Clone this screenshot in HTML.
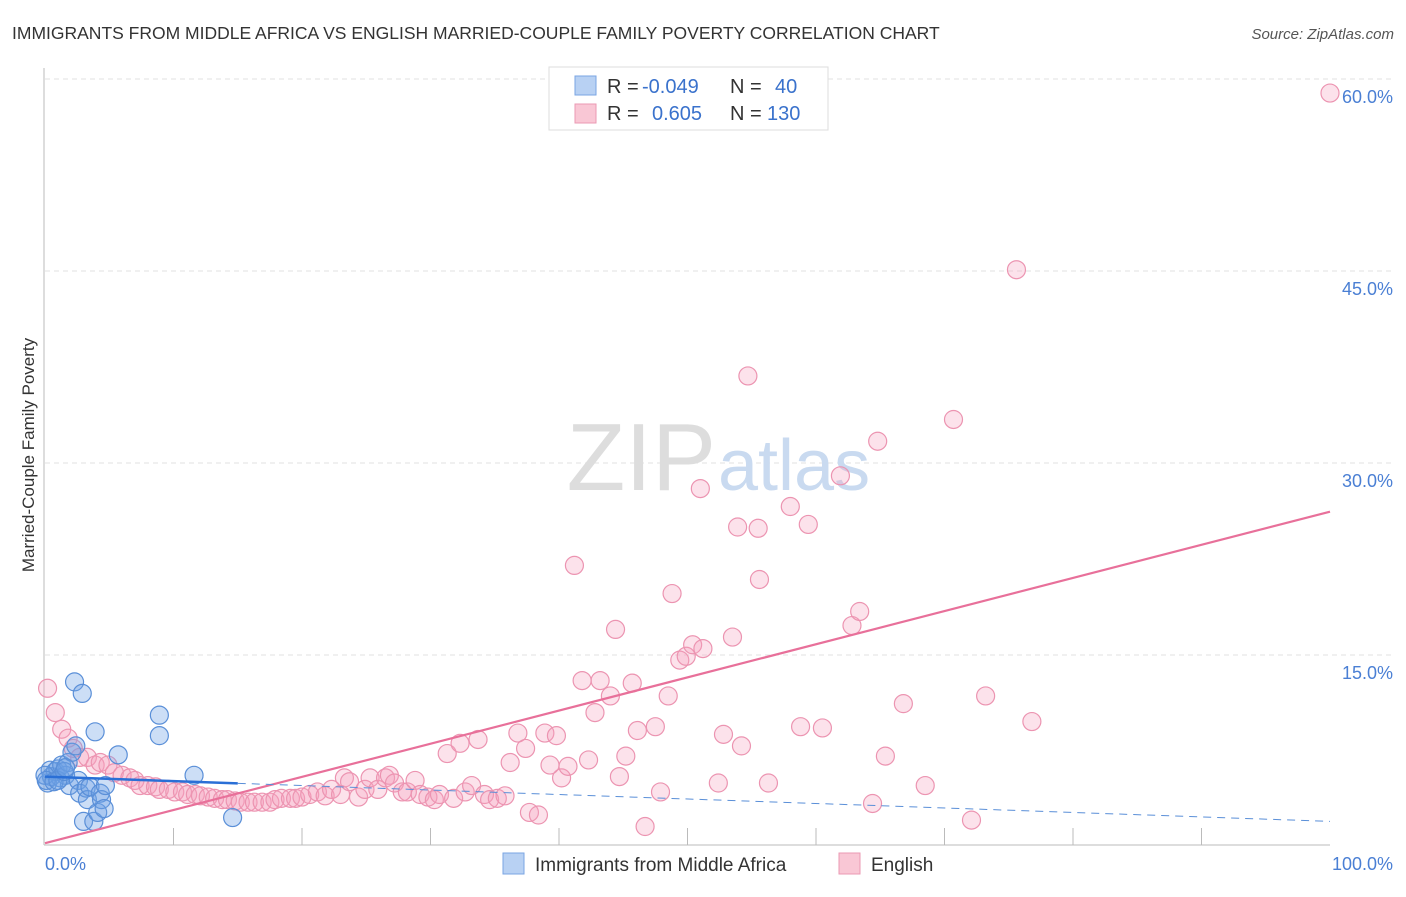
<!DOCTYPE html>
<html><head><meta charset="utf-8"><style>
body{margin:0;background:#fff;font-family:"Liberation Sans",sans-serif}
svg text{font-family:"Liberation Sans",sans-serif}
</style></head><body>
<svg width="1406" height="892">
<text x="12" y="39" font-size="17.5" fill="#333">IMMIGRANTS FROM MIDDLE AFRICA VS ENGLISH MARRIED-COUPLE FAMILY POVERTY CORRELATION CHART</text>
<text x="1394" y="39" font-size="15" fill="#555" font-style="italic" text-anchor="end">Source: ZipAtlas.com</text>
<g id="grid"></g>
<text x="716" y="490" font-size="96" font-family="Liberation Serif" fill="#ddd" text-anchor="end">ZIP</text>
<text x="718" y="490" font-size="72" fill="#c9daf0">atlas</text>
<text transform="translate(34,455) rotate(-90)" font-size="17" fill="#333" text-anchor="middle">Married-Couple Family Poverty</text>
<g id="pts"></g>
<g id="lines"></g>
<g>
<rect x="549" y="67" width="279" height="63" fill="#fff" stroke="#ddd"/>
<rect x="575" y="76" width="21" height="19" fill="#b8d1f3" stroke="#7aa5e3"/>
<rect x="575" y="104" width="21" height="19" fill="#f9c7d5" stroke="#eb9ab3"/>
<text x="607" y="93" font-size="20" fill="#333">R = </text><text x="642" y="93" font-size="20" fill="#3a72cc">-0.049</text>
<text x="730" y="93" font-size="20" fill="#333">N = </text><text x="775" y="93" font-size="20" fill="#3a72cc">40</text>
<text x="607" y="120" font-size="20" fill="#333">R = </text><text x="652" y="120" font-size="20" fill="#3a72cc">0.605</text>
<text x="730" y="120" font-size="20" fill="#333">N = </text><text x="767" y="120" font-size="20" fill="#3a72cc">130</text>
</g>
<g>
<rect x="503" y="853" width="21" height="21" fill="#b8d1f3" stroke="#7aa5e3"/>
<text x="535" y="871" font-size="19" fill="#333">Immigrants from Middle Africa</text>
<rect x="839" y="853" width="21" height="21" fill="#f9c7d5" stroke="#eb9ab3"/>
<text x="871" y="871" font-size="19" fill="#333">English</text>
</g>
</svg>
<script>
const yTicks=[15,30,45,60];
const xTickLabels=["0.0%","100.0%"];
const blueX=[0.2,0.4,0.5,0.8,1.0,1.2,1.3,1.6,1.8,1.9,2.1,2.3,2.4,2.6,2.7,2.9,3.0,3.2,3.3,3.5,3.8,3.9,4.1,4.3,4.4,4.6,4.7,5.7,8.9,8.9,11.6,14.6,0.0,0.1,0.7,1.0,1.5,1.6];
const blueY=[5.0,6.0,5.5,5.9,6.1,5.4,6.4,5.6,6.6,4.8,7.4,12.9,7.9,5.2,4.2,12.0,2.0,4.6,3.7,4.7,2.0,9.0,2.7,4.2,3.7,3.0,4.8,7.2,10.3,8.7,5.6,2.3,5.6,5.2,5.1,5.2,5.9,6.2];
const pinkX=[0.2,0.8,1.3,1.8,2.2,2.7,3.3,3.9,4.3,4.9,5.4,6.0,6.6,7.0,7.4,8.0,8.6,8.9,9.6,10.1,10.7,11.1,11.7,12.1,12.7,13.2,13.8,14.2,14.8,15.2,15.8,16.3,16.9,17.5,17.9,18.4,19.1,19.5,20.0,20.6,21.2,21.8,22.3,23.0,23.3,23.7,24.4,24.9,25.3,25.9,26.5,26.8,27.2,27.8,28.2,28.8,29.2,29.8,30.3,30.7,31.3,31.8,32.3,32.7,33.2,33.7,34.2,34.6,35.2,35.8,36.2,36.8,37.4,37.7,38.4,38.9,39.3,39.8,40.2,40.7,41.2,41.8,42.3,42.8,43.2,44.0,44.4,44.7,45.2,45.7,46.1,46.7,47.5,47.9,48.5,48.8,49.4,49.9,50.4,51.0,51.2,52.4,52.8,53.5,53.9,54.2,54.7,55.5,55.6,56.3,58.0,58.8,59.4,60.5,61.9,62.8,63.4,64.4,64.8,65.4,66.8,68.5,70.7,72.1,73.2,75.6,76.8,100.0];
const pinkY=[12.4,10.5,9.2,8.5,7.7,7.0,7.0,6.4,6.6,6.4,5.8,5.6,5.4,5.2,4.8,4.8,4.7,4.5,4.5,4.3,4.3,4.1,4.1,4.0,3.9,3.8,3.7,3.7,3.6,3.5,3.5,3.5,3.5,3.5,3.7,3.8,3.8,3.8,3.9,4.1,4.3,4.0,4.5,4.1,5.4,5.1,3.9,4.5,5.4,4.5,5.4,5.6,5.0,4.3,4.3,5.2,4.1,3.9,3.7,4.1,7.3,3.8,8.1,4.3,4.8,8.4,4.1,3.7,3.8,4.0,6.6,8.9,7.7,2.7,2.5,8.9,6.4,8.7,5.4,6.3,22.0,13.0,6.8,10.5,13.0,11.8,17.0,5.5,7.1,12.8,9.1,1.6,9.4,4.3,11.8,19.8,14.6,14.9,15.8,28.0,15.5,5.0,8.8,16.4,25.0,7.9,36.8,24.9,20.9,5.0,26.6,9.4,25.2,9.3,29.0,17.3,18.4,3.4,31.7,7.1,11.2,4.8,33.4,2.1,11.8,45.1,9.8,58.9];
const blueFit=[5.5,2.0],blueSolidEnd=15,pinkFit=[0.3,26.2];
const X0=45,X1=1330,Y0=847,YS=12.8;
const sx=v=>X0+(X1-X0)*v/100, sy=v=>Y0-v*YS;
const NS="http://www.w3.org/2000/svg";
function mk(p,t,a){const e=document.createElementNS(NS,t);for(const k in a)e.setAttribute(k,a[k]);p.appendChild(e);return e;}
const grid=document.getElementById('grid');
yTicks.forEach(t=>{
 const l=mk(grid,'line',{x1:X0,x2:1395,y1:sy(t),y2:sy(t),stroke:'#e2e2e2','stroke-dasharray':'5,4'});
 
 
 const tx=mk(grid,'text',{x:1393,y:sy(t)+24,'font-size':18,fill:'#4a7fd4','text-anchor':'end'});
 tx.textContent=t.toFixed(1)+'%';
 
 
});
mk(grid,'line',{x1:44,x2:44,y1:68,y2:845,stroke:'#bbb'});
mk(grid,'line',{x1:44,x2:1330,y1:845,y2:845,stroke:'#bbb'});
for(let i=1;i<10;i++){const t=mk(grid,'line',{x1:sx(i*10),x2:sx(i*10),y1:828,y2:845,stroke:'#bbb'});}
const xl0=mk(grid,'text',{x:45,y:870,'font-size':18,fill:'#4a7fd4'});xl0.textContent=xTickLabels[0];


const xl1=mk(grid,'text',{x:1393,y:870,'font-size':18,fill:'#4a7fd4','text-anchor':'end'});xl1.textContent=xTickLabels[1];


const pts=document.getElementById('pts');
pinkX.forEach((x,i)=>{const c=mk(pts,'circle',{cx:sx(x),cy:sy(pinkY[i]),r:9,fill:'rgba(244,160,188,0.3)',stroke:'#ec94b1','stroke-width':1.2});
 
 });
blueX.forEach((x,i)=>{const c=mk(pts,'circle',{cx:sx(x),cy:sy(blueY[i]),r:9,fill:'rgba(110,160,230,0.35)',stroke:'#5a8fd8','stroke-width':1.2});
 
 });
const L=document.getElementById('lines');
const bAt=x=>blueFit[0]+(blueFit[1]-blueFit[0])*x/100;
const pl=mk(L,'line',{x1:sx(0),y1:sy(pinkFit[0]),x2:sx(100),y2:sy(pinkFit[1]),stroke:'#e8709a','stroke-width':2.2});


const bd=mk(L,'line',{x1:sx(blueSolidEnd),y1:sy(bAt(blueSolidEnd)),x2:sx(100),y2:sy(bAt(100)),stroke:'#5a8fd8','stroke-width':1,'stroke-dasharray':'8,6'});


const bl=mk(L,'line',{x1:sx(0),y1:sy(bAt(0)),x2:sx(blueSolidEnd),y2:sy(bAt(blueSolidEnd)),stroke:'#2a6fd6','stroke-width':2.5});


</script>
</body></html>
